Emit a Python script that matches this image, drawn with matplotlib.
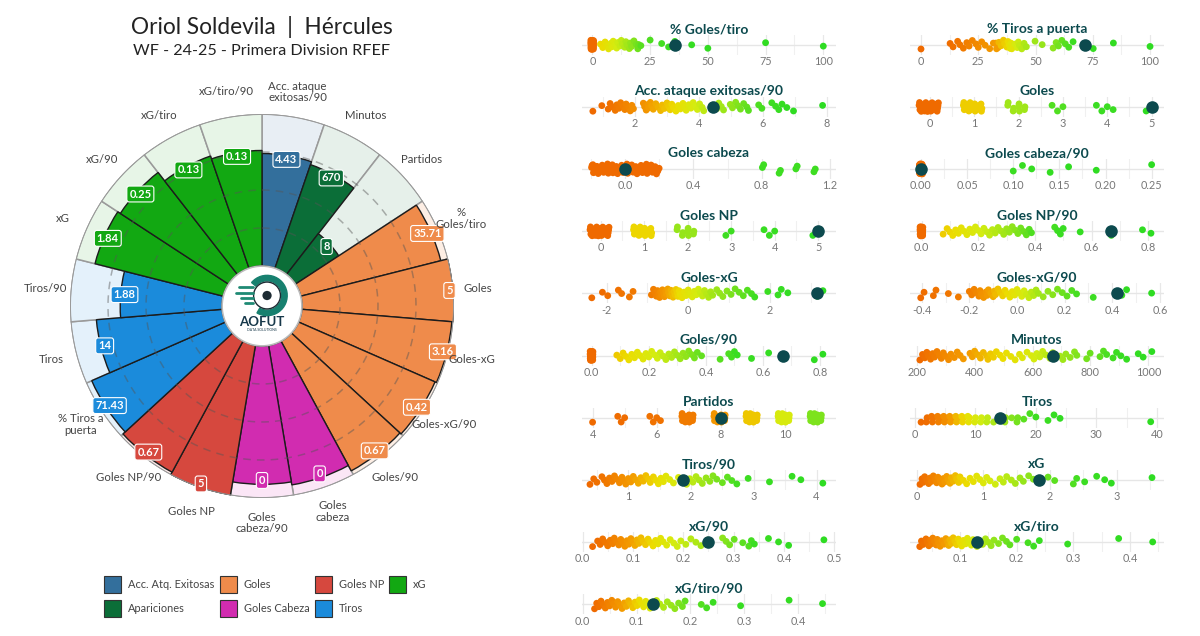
import numpy as np
import matplotlib.pyplot as plt
from matplotlib.colors import LinearSegmentedColormap
from matplotlib.patches import Rectangle, Circle, Wedge

plt.rcParams['font.family'] = ['Lato', 'DejaVu Sans']

# -----------------------------
# RADAR DATA (clockwise from top)
# -----------------------------
polar_labels = ['Acc. ataque\nexitosas/90', 'Minutos', 'Partidos', '%\nGoles/tiro', 'Goles',
                'Goles-xG', 'Goles-xG/90', 'Goles/90', 'Goles\ncabeza', 'Goles\ncabeza/90',
                'Goles NP', 'Goles NP/90', '% Tiros a\npuerta', 'Tiros', 'Tiros/90',
                'xG', 'xG/90', 'xG/tiro', 'xG/tiro/90']
polar_values = ['4.43', '670', '8', '35.71', '5', '3.16', '0.42', '0.67', '0', '0',
                '5', '0.67', '71.43', '14', '1.88', '1.84', '0.25', '0.13', '0.13']
polar_pct = [74, 72, 34, 95, 100, 99, 98, 97, 93, 91, 100, 98, 96, 83, 67, 87, 85, 78, 76]
polar_groups = ['Acc. Atq. Exitosas', 'Apariciones', 'Apariciones', 'Goles', 'Goles',
                'Goles', 'Goles', 'Goles', 'Goles Cabeza', 'Goles Cabeza',
                'Goles NP', 'Goles NP', 'Tiros', 'Tiros', 'Tiros',
                'xG', 'xG', 'xG', 'xG']

legend_rows = [['Acc. Atq. Exitosas', 'Goles', 'Goles NP', 'xG'],
               ['Apariciones', 'Goles Cabeza', 'Tiros']]

group_colors = {'Acc. Atq. Exitosas': '#336f9c', 'Apariciones': '#0b6e38', 'Goles': '#ef8b4b',
                'Goles Cabeza': '#d12cb0', 'Goles NP': '#d6483e', 'Tiros': '#1b8bdb', 'xG': '#12a812'}
group_light = {'Acc. Atq. Exitosas': '#e8eef4', 'Apariciones': '#e6f0ea', 'Goles': '#fdeee4',
               'Goles Cabeza': '#fbe6f6', 'Goles NP': '#fbe9e8', 'Tiros': '#e4f1fb', 'xG': '#e7f5e7'}

# -----------------------------
# STRIP DATA (row-major, two columns)
# -----------------------------
strip_titles = ['% Goles/tiro', '% Tiros a puerta', 'Acc. ataque exitosas/90', 'Goles',
                'Goles cabeza', 'Goles cabeza/90', 'Goles NP', 'Goles NP/90',
                'Goles-xG', 'Goles-xG/90', 'Goles/90', 'Minutos', 'Partidos', 'Tiros',
                'Tiros/90', 'xG', 'xG/90', 'xG/tiro', 'xG/tiro/90']
strip_player = [35.71, 71.43, 4.43, 5, 0, 0, 5, 0.67, 3.16, 0.42, 0.67, 670, 8, 14,
                1.88, 1.84, 0.25, 0.13, 0.13]

pct_goles_tiro = [0] * 30 + [3.5, 4.5, 5.5, 6.5, 7, 8, 8.5, 9, 10, 10.5, 11, 12, 12.5, 13, 14,
                             14.5, 15, 16, 16.5, 17, 18, 19, 20, 20, 21, 25, 30, 33, 35.71, 43,
                             50, 75, 100]
pct_tiros_puerta = [0, 12.7, 14, 16, 17, 18.5, 20, 21, 22.4, 24, 25, 26.5, 28, 30, 31.6,
                    33.33, 33.33, 33.33, 33.33, 34, 35, 36, 36.5, 37.5, 38, 38.5, 39, 40, 40,
                    40, 41, 42, 42.5, 43, 44, 45, 46, 49.8, 52.9, 57.7, 59, 60, 61.5, 63,
                    64.5, 66.4, 71.43, 75.2, 84, 100]
acc_ataque = [0.68, 0.96, 1.16, 1.22, 1.3, 1.38, 1.43, 1.5, 1.55, 1.62, 1.68, 1.72, 1.8,
              1.85, 1.9, 1.95, 2.26, 2.3, 2.35, 2.4, 2.42, 2.48, 2.52, 2.57, 2.65, 2.72, 2.8,
              2.85, 2.92, 3.0, 3.05, 3.1, 3.15, 3.2, 3.28, 3.35, 3.42, 3.5, 3.55, 3.6, 3.68,
              3.75, 3.82, 3.9, 3.95, 4.02, 4.1, 4.15, 4.43, 4.56, 4.62, 4.7, 4.77, 4.98,
              5.05, 5.15, 5.22, 5.3, 5.4, 5.5, 5.55, 5.87, 5.97, 6.28, 6.4, 6.5, 6.6, 6.75,
              6.96, 7.87]
goles = [0] * 30 + [1] * 20 + [2] * 9 + [3] * 3 + [4] * 4 + [5] * 2
goles_cabeza = [0] * 70 + [1] * 8
goles_cabeza_90 = [0] * 70 + [0.10, 0.11, 0.12, 0.14, 0.16, 0.19, 0.25]
goles_np = [0] * 31 + [1] * 20 + [2] * 9 + [3] * 2 + [4] * 3 + [5] * 2
goles_np_90 = [0] * 31 + [0.076, 0.09, 0.1, 0.11, 0.12, 0.13, 0.14, 0.15, 0.16, 0.17, 0.18,
                          0.19, 0.2, 0.21, 0.22, 0.23, 0.24, 0.25, 0.26, 0.27, 0.28, 0.29,
                          0.3, 0.31, 0.32, 0.33, 0.34, 0.35, 0.36, 0.37, 0.38, 0.388, 0.47,
                          0.48, 0.49, 0.5, 0.56, 0.67, 0.78, 0.81]
goles_xg = [-2.36, -2.1, -1.97, -1.71, -1.63, -1.44, -1.35, -0.9, -0.85, -0.82, -0.78,
            -0.75, -0.72, -0.7, -0.68, -0.65, -0.63, -0.6, -0.58, -0.55, -0.53, -0.5, -0.48,
            -0.45, -0.42, -0.4, -0.37, -0.35, -0.32, -0.3, -0.27, -0.25, -0.22, -0.2, -0.15,
            -0.1, -0.05, 0.0, 0.05, 0.1, 0.15, 0.2, 0.25, 0.3, 0.35, 0.4, 0.45, 0.5, 0.55,
            0.6, 0.7, 0.77, 0.85, 0.95, 1.05, 1.15, 1.25, 1.35, 1.45, 1.55, 1.63, 1.95, 2.2,
            2.28, 2.44, 3.16, 3.3]
goles_xg_90 = [-0.404, -0.39, -0.351, -0.34, -0.288, -0.246, -0.2, -0.19, -0.18, -0.17,
               -0.16, -0.155, -0.15, -0.14, -0.13, -0.125, -0.12, -0.11, -0.1, -0.095, -0.09,
               -0.08, -0.07, -0.06, -0.05, -0.04, -0.03, -0.02, -0.01, 0.0, 0.01, 0.02,
               0.03, 0.04, 0.05, 0.06, 0.07, 0.08, 0.09, 0.11, 0.13, 0.15, 0.17, 0.19,
               0.21, 0.23, 0.25, 0.32, 0.42, 0.44, 0.46, 0.565]
goles_90 = [0] * 30 + [0.088, 0.1, 0.11, 0.12, 0.13, 0.14, 0.15, 0.16, 0.17, 0.18, 0.19,
                       0.2, 0.21, 0.22, 0.23, 0.24, 0.25, 0.26, 0.27, 0.28, 0.29, 0.3, 0.31,
                       0.32, 0.33, 0.34, 0.35, 0.36, 0.37, 0.385, 0.45, 0.48, 0.49, 0.5,
                       0.51, 0.56, 0.62, 0.67, 0.78, 0.81]
minutos = [211, 220, 228, 235, 240, 248, 255, 262, 270, 278, 285, 292, 300, 310, 318, 330,
           340, 350, 361, 384, 392, 400, 410, 420, 430, 442, 446, 455, 465, 475, 488, 498,
           510, 525, 540, 555, 565, 581, 596, 605, 615, 625, 635, 645, 660, 670, 695, 705,
           715, 730, 745, 753, 787, 799, 833, 845, 856, 878, 890, 905, 925, 965, 982, 1012]
partidos = [4] + [5] * 3 + [6] * 4 + [7] * 12 + [8] * 12 + [9] * 14 + [10] * 15 + [11] * 15
tiros = [1, 2, 2, 3, 3, 3, 4, 4, 4, 4, 5, 5, 5, 5, 6, 6, 6, 6, 7, 7, 7, 7, 8, 8, 8, 9, 9,
         9, 10, 10, 11, 11, 12, 12, 13, 14, 15, 15, 16, 17, 17, 18, 19, 20, 22, 23, 24, 39]
tiros_90 = [0.39, 0.45, 0.5, 0.58, 0.62, 0.66, 0.7, 0.74, 0.78, 0.82, 0.86, 0.9, 0.92, 0.96,
            1.0, 1.04, 1.08, 1.12, 1.16, 1.2, 1.24, 1.28, 1.32, 1.35, 1.4, 1.44, 1.48, 1.52,
            1.56, 1.6, 1.66, 1.72, 1.8, 1.88, 1.93, 1.98, 2.03, 2.08, 2.13, 2.18, 2.24, 2.3,
            2.35, 2.41, 2.5, 2.58, 2.65, 2.73, 2.91, 3.25, 3.61, 3.75, 4.1]
xg = [0.05, 0.08, 0.1, 0.12, 0.15, 0.18, 0.2, 0.22, 0.25, 0.28, 0.3, 0.32, 0.35, 0.38, 0.4,
      0.42, 0.45, 0.47, 0.5, 0.52, 0.55, 0.58, 0.6, 0.63, 0.65, 0.7, 0.75, 0.8, 0.85, 0.9,
      0.95, 1.0, 1.05, 1.1, 1.18, 1.25, 1.3, 1.35, 1.42, 1.48, 1.55, 1.6, 1.68, 1.75, 1.84,
      1.97, 2.07, 2.35, 2.4, 2.52, 2.7, 2.82, 2.92, 3.53]
xg_90 = [0.02, 0.03, 0.035, 0.04, 0.045, 0.05, 0.055, 0.06, 0.063, 0.068, 0.072, 0.076,
         0.08, 0.084, 0.088, 0.092, 0.096, 0.1, 0.104, 0.108, 0.112, 0.116, 0.12, 0.125,
         0.13, 0.135, 0.14, 0.145, 0.15, 0.155, 0.16, 0.167, 0.174, 0.181, 0.188, 0.195,
         0.205, 0.215, 0.225, 0.235, 0.248, 0.25, 0.278, 0.285, 0.292, 0.301, 0.318, 0.33,
         0.335, 0.341, 0.369, 0.389, 0.409, 0.479]
xg_tiro = [0.029, 0.032, 0.035, 0.04, 0.042, 0.045, 0.048, 0.05, 0.052, 0.055, 0.058, 0.06,
           0.062, 0.065, 0.068, 0.072, 0.075, 0.078, 0.08, 0.082, 0.085, 0.088, 0.091,
           0.094, 0.097, 0.1, 0.103, 0.106, 0.11, 0.113, 0.116, 0.12, 0.123, 0.126, 0.13,
           0.135, 0.14, 0.145, 0.15, 0.155, 0.16, 0.168, 0.175, 0.182, 0.188, 0.2, 0.22,
           0.23, 0.24, 0.29, 0.38, 0.44]
xg_tiro_90 = [0.022, 0.026, 0.03, 0.034, 0.038, 0.042, 0.046, 0.05, 0.054, 0.057, 0.061,
              0.065, 0.069, 0.073, 0.077, 0.081, 0.085, 0.089, 0.093, 0.097, 0.101, 0.105,
              0.109, 0.113, 0.117, 0.121, 0.125, 0.128, 0.13, 0.137, 0.143, 0.15, 0.157,
              0.164, 0.171, 0.178, 0.185, 0.19, 0.22, 0.23, 0.242, 0.293, 0.383, 0.445]

strip_values = [pct_goles_tiro, pct_tiros_puerta, acc_ataque, goles, goles_cabeza,
                goles_cabeza_90, goles_np, goles_np_90, goles_xg, goles_xg_90, goles_90,
                minutos, partidos, tiros, tiros_90, xg, xg_90, xg_tiro, xg_tiro_90]

# axis ranges, ticks, tick labels and horizontal jitter (data units, ints only)
strip_xlim = [(-4.5, 105.5), (-4.8, 106.1), (0.34, 8.29), (-0.45, 5.28), (-0.252, 1.235),
              (-0.0119, 0.2634), (-0.43, 5.41), (-0.041, 0.856), (-2.6, 3.62), (-0.449, 0.617),
              (-0.034, 0.856), (176.9, 1054), (3.67, 11.59), (-0.83, 41.2), (0.263, 4.31),
              (-0.1, 3.71), (-0.001, 0.503), (0.0118, 0.46), (-0.0013, 0.47)]
strip_ticks = [[0, 25, 50, 75, 100], [0, 25, 50, 75, 100], [2, 4, 6, 8], [0, 1, 2, 3, 4, 5],
               [0, 0.4, 0.8, 1.2], [0, 0.05, 0.1, 0.15, 0.2, 0.25], [0, 1, 2, 3, 4, 5],
               [0, 0.2, 0.4, 0.6, 0.8], [-2, 0, 2], [-0.4, -0.2, 0, 0.2, 0.4, 0.6],
               [0, 0.2, 0.4, 0.6, 0.8], [200, 400, 600, 800, 1000], [4, 6, 8, 10],
               [0, 10, 20, 30, 40], [1, 2, 3, 4], [0, 1, 2, 3], [0, 0.1, 0.2, 0.3, 0.4, 0.5],
               [0.1, 0.2, 0.3, 0.4], [0, 0.1, 0.2, 0.3, 0.4]]
strip_fmt = ['{:.0f}', '{:.0f}', '{:.0f}', '{:.0f}', '{:.1f}', '{:.2f}', '{:.0f}', '{:.1f}',
             '{:.0f}', '{:.1f}', '{:.1f}', '{:.0f}', '{:.0f}', '{:.0f}', '{:.0f}', '{:.0f}',
             '{:.1f}', '{:.1f}', '{:.1f}']
strip_jit = [0, 0, 0, 0.25, 0.2, 0, 0.25, 0, 0, 0, 0, 0, 0.22, 0, 0, 0, 0, 0, 0]

TEAL = '#0c4a4e'
AX_W = 254  # strip axis width in px

cmap = LinearSegmentedColormap.from_list('og', [(0, '#ef6a00'), (0.3, '#f39c00'),
                                                 (0.48, '#ecdc00'), (0.62, '#d4ec10'),
                                                 (0.78, '#8de41c'), (0.9, '#3ddd22'),
                                                 (1, '#2bdc22')])


def place(vals, lo, hi, jit):
    vals = np.sort(np.array(vals, dtype=float))
    ppu = AX_W / (hi - lo)
    xs, ys, cs = [], [], []
    uniq, counts = np.unique(vals, return_counts=True)
    k = 0
    for v, n in zip(uniq, counts):
        rank = np.sum(vals < v) / len(vals)
        for j in range(n):
            if n == 1:
                dx = 0
                dy = (((k * 0.618034) % 1) - 0.5) * 9
            else:
                u = (j * 0.7548777 + 0.5) % 1
                w = (j * 0.5698403 + 0.5) % 1
                dx = (u - 0.5) * 2 * (jit * ppu if jit else 1.6)
                dy = (w - 0.5) * 10
            xs.append(v + dx / ppu)
            ys.append(dy)
            cs.append(cmap(rank))
            k += 1
    return xs, ys, cs


fig = plt.figure(figsize=(12, 6.36), dpi=100)
fig.patch.set_facecolor('white')

# -----------------------------
# RADAR
# -----------------------------
CX, CY, R = 262, 306, 192
ax = fig.add_axes([(CX - R) / 1200, (636 - CY - R) / 636, 2 * R / 1200, 2 * R / 636],
                  projection='polar')
ax.set_theta_zero_location('N')
ax.set_theta_direction(-1)
ax.set_ylim(0, 1)
ax.axis('off')

n = len(polar_labels)
width = 2 * np.pi / n
theta = (np.arange(n) + 0.5) * width
r0 = 40 / R

for i in range(n):
    g = polar_groups[i]
    ax.bar(theta[i], 1 - r0, width=width, bottom=r0, color=group_light[g],
           edgecolor='#9a9a9a', linewidth=1.1, zorder=1)
for i in range(n):
    g = polar_groups[i]
    h = polar_pct[i] / 100 * (1 - r0)
    ax.bar(theta[i], h, width=width, bottom=r0, color=group_colors[g],
           edgecolor='#1c1c1c', linewidth=1.0, zorder=2)

tt = np.linspace(0, 2 * np.pi, 400)
for q in [0.25, 0.5, 0.75]:
    ax.plot(tt, np.full_like(tt, r0 + q * (1 - r0)), color='#555555', alpha=0.45,
            lw=1.1, ls=(0, (5, 4)), zorder=3)
ax.plot(tt, np.ones_like(tt), color='#9a9a9a', lw=1.4, zorder=3)

for i in range(n):
    g = polar_groups[i]
    rr = r0 + polar_pct[i] / 100 * (1 - r0)
    ax.text(theta[i], rr - 0.02, polar_values[i], ha='center', va='center', color='white',
            fontsize=8, fontweight='bold', zorder=6,
            bbox=dict(boxstyle='round,pad=0.22', fc=group_colors[g], ec='white', lw=0.8))
    ax.text(theta[i], 1.13, polar_labels[i], ha='center', va='center', color='#444444',
            fontsize=8.2, linespacing=1.1, zorder=6)

# logo in the centre
lax = fig.add_axes([(CX - 42) / 1200, (636 - CY - 42) / 636, 84 / 1200, 84 / 636])
lax.set_xlim(-1, 1)
lax.set_ylim(-1, 1)
lax.axis('off')
lax.add_patch(Circle((0, 0), 0.95, fc='white', ec='#bbbbbb', lw=1.2))
lax.add_patch(Wedge((0.12, 0.25), 0.48, -120, 140, width=0.13, color='#17806f'))
lax.add_patch(Circle((0.12, 0.25), 0.32, fc='white', ec='#1d2b33', lw=1))
lax.add_patch(Circle((0.12, 0.25), 0.11, fc='#1d2b33'))
for yy, x0 in zip([0.45, 0.32, 0.19, 0.06], [-0.55, -0.62, -0.5, -0.4]):
    lax.plot([x0, -0.22], [yy, yy], color='#1f8a74', lw=2, solid_capstyle='round')
lax.text(0, -0.38, 'AOFUT', ha='center', va='center', fontsize=9.5, fontweight='bold',
         color='#17384a')
lax.text(0, -0.58, 'DATA SOLUTIONS', ha='center', va='center', fontsize=2.5, color='#17384a')

# titles
fig.text(CX / 1200, 1 - 27 / 636, 'Oriol Soldevila  |  Hércules', ha='center', va='center',
         fontsize=16.3, color='#222222')
fig.text(CX / 1200, 1 - 51 / 636, 'WF - 24-25 - Primera Division RFEF', ha='center',
         va='center', fontsize=11.6, color='#222222')

# legend
legend_x = [104, 220, 315, 389]
for r_i, row in enumerate(legend_rows):
    yc = 584 + 24 * r_i
    for c_i, name in enumerate(row):
        x0 = legend_x[c_i]
        fig.patches.append(Rectangle((x0 / 1200, (636 - yc - 8.5) / 636), 17 / 1200, 17 / 636,
                                     transform=fig.transFigure, fc=group_colors[name],
                                     ec='#333333', lw=0.8))
        fig.text((x0 + 24) / 1200, 1 - yc / 636, name, ha='left', va='center',
                 fontsize=7.9, color='#444444')

# -----------------------------
# STRIP PLOTS
# -----------------------------
for s in range(len(strip_titles)):
    col = s % 2
    row = s // 2
    left = 582 if col == 0 else 910
    cy = 44.5 + 62.2 * row
    sax = fig.add_axes([left / 1200, (636 - cy - 10) / 636, AX_W / 1200, 20 / 636])
    lo, hi = strip_xlim[s]
    sax.set_xlim(lo, hi)
    sax.set_ylim(-10, 10)
    for sp in sax.spines.values():
        sp.set_visible(False)
    ticks = strip_ticks[s]
    step = ticks[1] - ticks[0]
    minors = [t + step / 2 for t in [ticks[0] - step] + ticks]
    for t in minors:
        if lo < t < hi:
            sax.axvline(t, color='#f0f0f0', lw=0.8, zorder=0)
    for t in ticks:
        sax.axvline(t, color='#e8e8e8', lw=0.9, zorder=0)
    sax.axhline(0, color='#e6e6e6', lw=1.0, zorder=0)

    xs, ys, cs = place(strip_values[s], lo, hi, strip_jit[s])
    sax.scatter(xs, ys, s=24, c=cs, linewidths=0, zorder=2)
    sax.scatter([strip_player[s]], [0], s=82, color=TEAL, linewidths=0, zorder=4)

    sax.set_xticks(ticks)
    sax.set_xticklabels([strip_fmt[s].format(t) for t in ticks], fontsize=7.8, color='#777777')
    sax.set_yticks([])
    sax.tick_params(axis='x', length=0, pad=1)
    sax.set_facecolor('none')
    sax.text(0.5, 1.275, strip_titles[s], transform=sax.transAxes, ha='center', va='center',
             fontsize=10, fontweight='bold', color=TEAL)

fig.savefig('out.png', dpi=100, facecolor='white')
